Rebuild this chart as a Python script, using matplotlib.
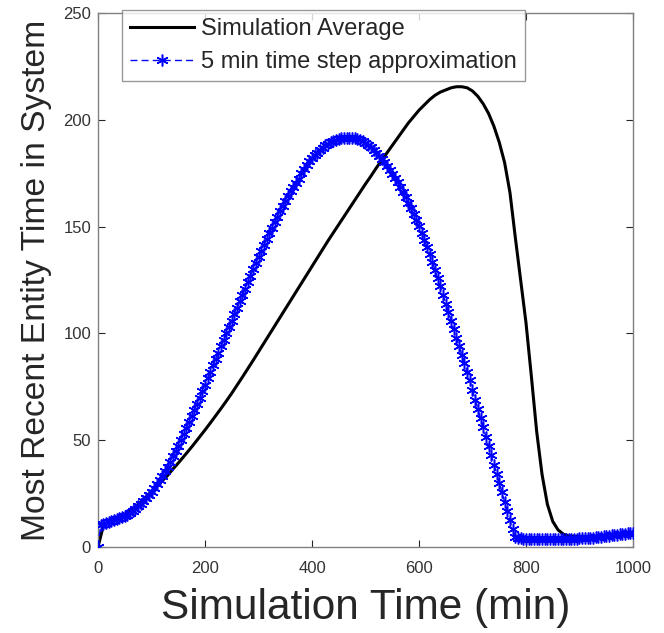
import numpy as np
import matplotlib
matplotlib.use("Agg")
import matplotlib.pyplot as plt

plt.rcParams['font.family'] = ['Liberation Sans', 'DejaVu Sans']

# ---- data ----
# 5 min time step approximation (every 5 min, 0..1000)
approx_time = list(range(0, 1001, 5))
approx_value = [
    0, 10.5, 11, 11.4, 11.8, 12.2, 12.6, 13, 13.4, 13.9,
    14.5, 15.2, 16, 16.9, 17.9, 19, 20.2, 21.5, 22.9, 24.4,
    26, 27.7, 29.5, 31.4, 33.4, 35.5, 37.7, 40, 42.4, 44.9,
    47.5, 50.2, 52.9, 55.7, 58.5, 61.3, 64.2, 67.1, 70, 73,
    76, 79, 82, 85, 88, 91, 94, 97, 100, 103,
    106, 109, 112, 115, 118, 121, 124, 127, 130, 133,
    136, 138.7, 141.4, 144.1, 146.8, 149.5, 152.1, 154.7, 157.2, 159.6,
    162, 164.3, 166.5, 168.6, 170.6, 172.5, 175, 177, 178.8, 180.5,
    182, 183.4, 184.7, 185.9, 187, 188, 188.9, 189.6, 190.2, 190.7,
    191.1, 191.4, 191.6, 191.7, 191.7, 191.6, 191.4, 191, 190.5, 189.9,
    189.1, 188.2, 187.2, 186, 184.7, 183.3, 181.8, 180.2, 178.5, 176.7,
    174.8, 172.8, 170.7, 168.5, 166.2, 163.8, 161.3, 158.7, 156, 153.1,
    150.1, 147, 143.8, 140.5, 137, 133.4, 129.7, 125.9, 122, 118,
    114, 110, 106, 102, 98, 94, 90, 86, 82, 78,
    73.5, 69, 64.7, 60.3, 56, 51.6, 47.3, 43, 38.6, 34.3,
    30, 25.6, 21.3, 17, 12.6, 8.3, 4.5, 4.2, 4.0, 3.9,
    3.9, 3.9, 3.9, 3.9, 3.9, 3.9, 3.9, 3.9, 3.9, 3.9,
    3.9, 3.9, 3.9, 3.9, 3.9, 3.9, 3.9, 3.9, 3.9, 3.9,
    4.0, 4.05, 4.1, 4.2, 4.3, 4.4, 4.55, 4.7, 4.85, 5.0,
    5.15, 5.3, 5.45, 5.6, 5.75, 5.9, 6.05, 6.2, 6.35, 6.5,
    6.6,
]

# Simulation average (every 10 min, 0..1000)
sim_time = list(range(0, 1001, 10))
sim_value = [
    0, 10, 12, 13, 14, 15.3, 17, 19, 21, 23.5,
    26, 28.5, 31, 33.5, 36.5, 39.3, 42.3, 45.3, 48.4, 51.6,
    54.8, 58.1, 61.5, 64.9, 68.4, 72, 75.8, 79.6, 83.5, 87.4,
    91.4, 95.4, 99.4, 103.4, 107.4, 111.4, 115.4, 119.4, 123.4, 127.4,
    131.4, 135.4, 139.4, 143.4, 147.2, 151, 154.8, 158.6, 162.4, 166.2,
    170, 173.6, 177.4, 181, 184.5, 188, 191.5, 195, 198.5, 201.5,
    204.5, 207, 209.5, 211.5, 213, 214, 215, 215.5, 215.5, 215,
    213.5, 211, 207.5, 203, 197, 189.5, 180, 166, 145, 125,
    105, 80, 54, 34, 20, 12, 8, 6, 5.2, 5,
    5, 5, 5, 5, 5.1, 5.1, 5.2, 5.2, 5.3, 5.4,
    5.5,
]

x_ticks = [0, 200, 400, 600, 800, 1000]
y_ticks = [0, 50, 100, 150, 200, 250]

# ---- figure ----
fig = plt.figure(figsize=(6.64, 6.33), dpi=100)
ax = fig.add_axes([0.1476, 0.1358, 0.8057, 0.8436])

ax.plot(sim_time, sim_value, color='black', lw=2.2, label='Simulation Average', zorder=2)
ax.plot(approx_time, approx_value, color='blue', ls=(0, (5, 3)), lw=1.0, marker=(6, 2, 0),
        markersize=8.5, markeredgewidth=1.1, label='5 min time step approximation', zorder=3)

ax.set_xlim(0, 1000)
ax.set_ylim(0, 250)
ax.set_xticks(x_ticks)
ax.set_yticks(y_ticks)
ax.tick_params(direction='in', top=True, right=True, length=5, width=0.8,
               labelsize=12, labelcolor='#333333', color='#262626')
ax.tick_params(axis='x', pad=10)
ax.tick_params(axis='y', pad=5)
for sp in ax.spines.values():
    sp.set_color('#808080')
    sp.set_linewidth(1.0)

ax.set_xlabel('Simulation Time (min)', fontsize=30.5, color='#262626', labelpad=9)
ax.set_ylabel('Most Recent Entity Time in System', fontsize=24.2, color='#262626', labelpad=8)

leg = fig.legend(loc='upper left', bbox_to_anchor=(122/664, 1 - 10/633),
                 fontsize=17, frameon=True, fancybox=False, edgecolor='#808080',
                 borderpad=0.35, handlelength=2.7, handletextpad=0.3, labelspacing=0.45,
                 borderaxespad=0, numpoints=1)
leg.get_frame().set_linewidth(1.0)
for t in leg.get_texts():
    t.set_color('#262626')

fig.savefig('out.png', dpi=100)
